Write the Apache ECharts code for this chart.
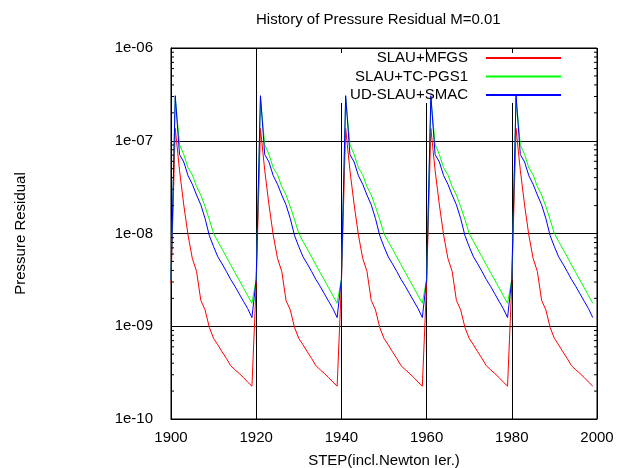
<!DOCTYPE html>
<html>
<head>
<meta charset="utf-8">
<script src="https://cdn.jsdelivr.net/npm/echarts@6/dist/echarts.min.js"></script>
<style>
  html, body { margin: 0; padding: 0; background: #fff; }
  #chart { width: 618px; height: 468px; }
</style>
</head>
<body>
<div id="chart"></div>
<script>
// step numbers (x)
const steps = [
  1900, 1901, 1902, 1903, 1904, 1905, 1906, 1907, 1908, 1909, 1910, 1911, 1912, 1913, 1914, 1915, 1916, 1917, 1918, 1919,
  1920, 1921, 1922, 1923, 1924, 1925, 1926, 1927, 1928, 1929, 1930, 1931, 1932, 1933, 1934, 1935, 1936, 1937, 1938, 1939,
  1940, 1941, 1942, 1943, 1944, 1945, 1946, 1947, 1948, 1949, 1950, 1951, 1952, 1953, 1954, 1955, 1956, 1957, 1958, 1959,
  1960, 1961, 1962, 1963, 1964, 1965, 1966, 1967, 1968, 1969, 1970, 1971, 1972, 1973, 1974, 1975, 1976, 1977, 1978, 1979,
  1980, 1981, 1982, 1983, 1984, 1985, 1986, 1987, 1988, 1989, 1990, 1991, 1992, 1993, 1994, 1995, 1996, 1997, 1998, 1999
];

// SLAU+MFGS
const mfgs = [
  2.9e-9, 1.36e-7, 4.8e-8, 2.03e-8, 9.6e-9, 5.4e-9, 3.9e-9, 1.9e-9, 1.5e-9, 9.7e-10, 7.4e-10, 6.3e-10, 5.3e-10, 4.5e-10, 3.76e-10, 3.4e-10, 3.1e-10, 2.8e-10, 2.5e-10, 2.26e-10,
  2.9e-9, 1.36e-7, 4.8e-8, 2.03e-8, 9.6e-9, 5.4e-9, 3.9e-9, 1.9e-9, 1.5e-9, 9.7e-10, 7.4e-10, 6.3e-10, 5.3e-10, 4.5e-10, 3.76e-10, 3.4e-10, 3.1e-10, 2.8e-10, 2.5e-10, 2.26e-10,
  2.9e-9, 1.36e-7, 4.8e-8, 2.03e-8, 9.6e-9, 5.4e-9, 3.9e-9, 1.9e-9, 1.5e-9, 9.7e-10, 7.4e-10, 6.3e-10, 5.3e-10, 4.5e-10, 3.76e-10, 3.4e-10, 3.1e-10, 2.8e-10, 2.5e-10, 2.26e-10,
  2.9e-9, 1.36e-7, 4.8e-8, 2.03e-8, 9.6e-9, 5.4e-9, 3.9e-9, 1.9e-9, 1.5e-9, 9.7e-10, 7.4e-10, 6.3e-10, 5.3e-10, 4.5e-10, 3.76e-10, 3.4e-10, 3.1e-10, 2.8e-10, 2.5e-10, 2.26e-10,
  2.9e-9, 1.36e-7, 4.8e-8, 2.03e-8, 9.6e-9, 5.4e-9, 3.9e-9, 1.9e-9, 1.5e-9, 9.7e-10, 7.4e-10, 6.3e-10, 5.3e-10, 4.5e-10, 3.76e-10, 3.4e-10, 3.1e-10, 2.8e-10, 2.5e-10, 2.26e-10
];

// SLAU+TC-PGS1
const tcpgs = [
  3.2e-9, 2.9e-7, 9.1e-8, 7.1e-8, 5.1e-8, 4.3e-8, 3.2e-8, 2.6e-8, 1.95e-8, 1.41e-8, 1.0e-8, 8.2e-9, 6.8e-9, 5.6e-9, 4.6e-9, 3.8e-9, 3.15e-9, 2.6e-9, 2.14e-9, 1.77e-9,
  3.2e-9, 2.9e-7, 9.1e-8, 7.1e-8, 5.1e-8, 4.3e-8, 3.2e-8, 2.6e-8, 1.95e-8, 1.41e-8, 1.0e-8, 8.2e-9, 6.8e-9, 5.6e-9, 4.6e-9, 3.8e-9, 3.15e-9, 2.6e-9, 2.14e-9, 1.77e-9,
  3.2e-9, 2.9e-7, 9.1e-8, 7.1e-8, 5.1e-8, 4.3e-8, 3.2e-8, 2.6e-8, 1.95e-8, 1.41e-8, 1.0e-8, 8.2e-9, 6.8e-9, 5.6e-9, 4.6e-9, 3.8e-9, 3.15e-9, 2.6e-9, 2.14e-9, 1.77e-9,
  3.2e-9, 2.9e-7, 9.1e-8, 7.1e-8, 5.1e-8, 4.3e-8, 3.2e-8, 2.6e-8, 1.95e-8, 1.41e-8, 1.0e-8, 8.2e-9, 6.8e-9, 5.6e-9, 4.6e-9, 3.8e-9, 3.15e-9, 2.6e-9, 2.14e-9, 1.77e-9,
  3.2e-9, 2.9e-7, 9.1e-8, 7.1e-8, 5.1e-8, 4.3e-8, 3.2e-8, 2.6e-8, 1.95e-8, 1.41e-8, 1.0e-8, 8.2e-9, 6.8e-9, 5.6e-9, 4.6e-9, 3.8e-9, 3.15e-9, 2.6e-9, 2.14e-9, 1.77e-9
];

// UD-SLAU+SMAC
const smac = [
  3.2e-9, 3.06e-7, 7.1e-8, 5.9e-8, 4.2e-8, 3.4e-8, 2.6e-8, 2.04e-8, 1.45e-8, 9.5e-9, 7.2e-9, 5.6e-9, 4.7e-9, 3.9e-9, 3.2e-9, 2.7e-9, 2.24e-9, 1.86e-9, 1.55e-9, 1.24e-9,
  3.2e-9, 3.06e-7, 7.1e-8, 5.9e-8, 4.2e-8, 3.4e-8, 2.6e-8, 2.04e-8, 1.45e-8, 9.5e-9, 7.2e-9, 5.6e-9, 4.7e-9, 3.9e-9, 3.2e-9, 2.7e-9, 2.24e-9, 1.86e-9, 1.55e-9, 1.24e-9,
  3.2e-9, 3.06e-7, 7.1e-8, 5.9e-8, 4.2e-8, 3.4e-8, 2.6e-8, 2.04e-8, 1.45e-8, 9.5e-9, 7.2e-9, 5.6e-9, 4.7e-9, 3.9e-9, 3.2e-9, 2.7e-9, 2.24e-9, 1.86e-9, 1.55e-9, 1.24e-9,
  3.2e-9, 3.06e-7, 7.1e-8, 5.9e-8, 4.2e-8, 3.4e-8, 2.6e-8, 2.04e-8, 1.45e-8, 9.5e-9, 7.2e-9, 5.6e-9, 4.7e-9, 3.9e-9, 3.2e-9, 2.7e-9, 2.24e-9, 1.86e-9, 1.55e-9, 1.24e-9,
  3.2e-9, 3.06e-7, 7.1e-8, 5.9e-8, 4.2e-8, 3.4e-8, 2.6e-8, 2.04e-8, 1.45e-8, 9.5e-9, 7.2e-9, 5.6e-9, 4.7e-9, 3.9e-9, 3.2e-9, 2.7e-9, 2.24e-9, 1.86e-9, 1.55e-9, 1.24e-9
];

const seriesNames = ['SLAU+MFGS', 'SLAU+TC-PGS1', 'UD-SLAU+SMAC'];
const seriesColors = ['#ff0000', '#00ff00', '#0000ff'];

// log minor tick positions (2..9 per decade)
const minorTicks = [
  2e-10, 3e-10, 4e-10, 5e-10, 6e-10, 7e-10, 8e-10, 9e-10,
  2e-9, 3e-9, 4e-9, 5e-9, 6e-9, 7e-9, 8e-9, 9e-9,
  2e-8, 3e-8, 4e-8, 5e-8, 6e-8, 7e-8, 8e-8, 9e-8,
  2e-7, 3e-7, 4e-7, 5e-7, 6e-7, 7e-7, 8e-7, 9e-7
];

const FONT = 'Liberation Sans';
const chart = echarts.init(document.getElementById('chart'));

const lineSeries = [mfgs, tcpgs, smac].map((vals, i) => ({
  name: seriesNames[i],
  type: 'line',
  symbol: 'none',
  showSymbol: false,
  color: seriesColors[i],
  lineStyle: { width: 1, color: seriesColors[i] },
  data: steps.map((s, j) => [s, vals[j]]),
  z: 3,
}));

chart.setOption({
  animation: false,
  backgroundColor: '#fff',
  title: {
    text: 'History of Pressure Residual M=0.01',
    left: 256,
    top: 12,
    padding: 0,
    textStyle: { fontFamily: FONT, fontSize: 15, fontWeight: 'normal', color: '#000' },
  },
  grid: {
    left: 171, right: 21, top: 48, bottom: 49,
    outerBoundsMode: 'none',
    containLabel: false,
    show: true, borderColor: '#000', borderWidth: 1, backgroundColor: 'transparent',
  },
  legend: {
    data: seriesNames,
    orient: 'vertical',
    right: 56,
    top: 50,
    padding: 0,
    align: 'right',
    itemWidth: 75,
    itemHeight: 12,
    itemGap: 2.5,
    selectedMode: false,
    itemStyle: { opacity: 0 },
    textStyle: { fontFamily: FONT, fontSize: 15, color: '#000', lineHeight: 16, padding: [0, 13, 0, 0] },
  },
  xAxis: {
    type: 'value',
    min: 1900,
    max: 2000,
    interval: 20,
    name: 'STEP(incl.Newton Ier.)',
    nameLocation: 'middle',
    nameGap: 34,
    nameTextStyle: { fontFamily: FONT, fontSize: 15, color: '#000' },
    axisLine: { show: true, lineStyle: { color: '#000', width: 1 } },
    axisTick: { show: false },
    axisLabel: { fontFamily: FONT, fontSize: 15, color: '#000', margin: 11, formatter: v => String(v) },
    splitLine: { show: true, lineStyle: { color: '#000', width: 1 } },
  },
  yAxis: {
    type: 'log',
    logBase: 10,
    min: 1e-10,
    max: 1e-6,
    name: 'Pressure Residual',
    nameLocation: 'middle',
    nameGap: 143,
    nameTextStyle: { fontFamily: FONT, fontSize: 15, color: '#000' },
    axisLine: { show: true, lineStyle: { color: '#000', width: 1 } },
    axisTick: { show: false },
    axisLabel: {
      fontFamily: FONT, fontSize: 15, color: '#000', margin: 18,
      formatter: v => {
        const e = Math.round(Math.log10(v));
        return '1e' + (e < 0 ? '-' : '+') + String(Math.abs(e)).padStart(2, '0');
      },
    },
    splitLine: { show: true, lineStyle: { color: '#000', width: 1 } },
  },
  graphic: [
    // key box hides the grid lines behind the legend
    { type: 'rect', shape: { x: 300, y: 53, width: 290, height: 50 }, style: { fill: '#fff' }, z: 1, silent: true },
  ],
  series: lineSeries.concat([{
    type: 'custom',
    name: 'minorTicks',
    silent: true,
    z: 4,
    data: minorTicks.map(v => [1900, v]),
    renderItem: (params, api) => {
      const v = api.value(1);
      const l = api.coord([1900, v]);
      const r = api.coord([2000, v]);
      return {
        type: 'group',
        children: [
          { type: 'line', shape: { x1: l[0], y1: l[1], x2: l[0] + 3, y2: l[1] }, style: { stroke: '#000', lineWidth: 1 } },
          { type: 'line', shape: { x1: r[0] - 3, y1: r[1], x2: r[0], y2: r[1] }, style: { stroke: '#000', lineWidth: 1 } },
        ],
      };
    },
  }]),
});
</script>
</body>
</html>
